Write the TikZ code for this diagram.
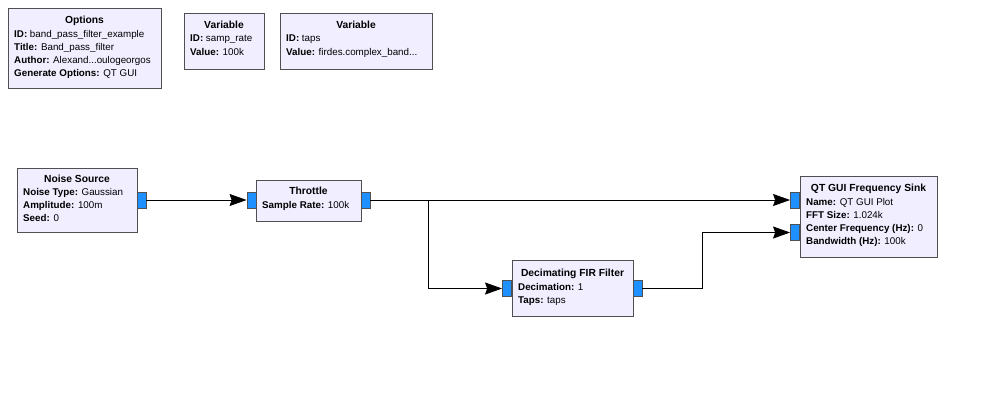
\documentclass[tikz,border=0pt]{standalone}
\usepackage{fontspec}
\setmainfont{Liberation Sans}
\usetikzlibrary{arrows.meta}
\definecolor{blockfill}{RGB}{241, 238, 255}
\definecolor{blockline}{RGB}{80, 80, 80}
\definecolor{portblue}{RGB}{30, 144, 255}

\tikzset{
    block/.style   ={draw=blockline, fill=blockfill, thick, anchor=north west, inner sep=0pt},
    title/.style   ={anchor=north, inner sep=0pt, font=\fontsize{10.3}{13}\selectfont\bfseries},
    params/.style  ={anchor=north west, inner sep=0pt, align=left, font=\fontsize{9.8}{13.2}\selectfont},
    port/.style    ={draw=blockline, fill=portblue, thick, minimum width=9pt, minimum height=16pt, inner sep=0pt},
    wire/.style    ={draw=black, thick},
    arrowwire/.style={wire, -{Stealth[length=17pt, width=12pt, inset=2pt]}}
}

\begin{document}
\begin{tikzpicture}[x=1pt, y=-1pt]
            \useasboundingbox (0,0) rectangle (1000,400);
            % variable blocks
            \node[block, minimum width=153pt, minimum height=80pt] (options) at (8,8) {};
            \node[title] at (84.5,16) {Options};
            \node[params] at (14,30) {\textbf{ID:} band\_pass\_filter\_example\\\textbf{Title:} Band\_pass\_filter\\\textbf{Author:} Alexand...oulogeorgos\\\textbf{Generate Options:} QT GUI};
            \node[block, minimum width=80pt, minimum height=56pt] (vsamp) at (184,13) {};
            \node[title] at (224,21) {Variable};
            \node[params] at (190,35) {\textbf{ID:} samp\_rate\\\textbf{Value:} 100k};
            \node[block, minimum width=152pt, minimum height=56pt] (vtaps) at (280,13) {};
            \node[title] at (356,21) {Variable};
            \node[params] at (286,35) {\textbf{ID:} taps\\\textbf{Value:} firdes.complex\_band...};
            % flow blocks
            \node[block, minimum width=120pt, minimum height=64pt] (noise) at (17,168) {};
            \node[title] at (77,175) {Noise Source};
            \node[params] at (23,188) {\textbf{Noise Type:} Gaussian\\\textbf{Amplitude:} 100m\\\textbf{Seed:} 0};
            \node[block, minimum width=105pt, minimum height=41pt] (throttle) at (256,180) {};
            \node[title] at (308.5,187) {Throttle};
            \node[params] at (262,201) {\textbf{Sample Rate:} 100k};
            \node[block, minimum width=121pt, minimum height=56pt] (decim) at (512,260) {};
            \node[title] at (572.5,269) {Decimating FIR Filter};
            \node[params] at (518,283) {\textbf{Decimation:} 1\\\textbf{Taps:} taps};
            \node[block, minimum width=137pt, minimum height=81pt] (sink) at (800,176) {};
            \node[title] at (868.5,184) {QT GUI Frequency Sink};
            \node[params] at (806,198) {\textbf{Name:} QT GUI Plot\\\textbf{FFT Size:} 1.024k\\\textbf{Center Frequency (Hz):} 0\\\textbf{Bandwidth (Hz):} 100k};
            % ports
            \node[port] (noiseout)  at (141.5,200)   {};
            \node[port] (thrin)     at (251.5,200)   {};
            \node[port] (throut)    at (365.5,200)   {};
            \node[port] (decin)     at (507,288.5)   {};
            \node[port] (decout)    at (637.5,288.5) {};
            \node[port] (sinkin)    at (795,200)     {};
            \node[port] (sinkinb)   at (795,232.5)   {};
            % connections
            \coordinate (split) at (428,200);
            \coordinate (bend)  at (702,288.5);
            \draw[arrowwire] (noiseout.east) -- (thrin.west);
            \draw[arrowwire] (throut.east) -- (sinkin.west);
            \draw[arrowwire] (split) |- (decin.west);
            \draw[arrowwire] (decout.east) -- (bend) |- (sinkinb.west);
\end{tikzpicture}
\end{document}
